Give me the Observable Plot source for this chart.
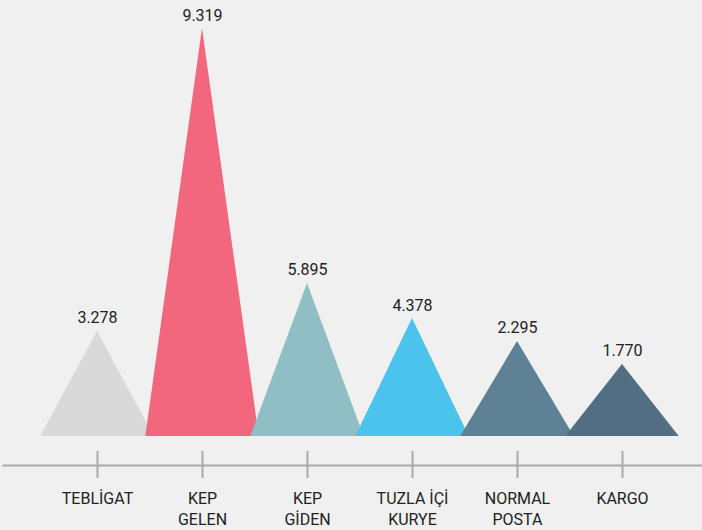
<!DOCTYPE html>
<html>
<head>
<meta charset="utf-8">
<script src="https://cdn.jsdelivr.net/npm/d3@7"></script>
<script src="https://cdn.jsdelivr.net/npm/@observablehq/plot@0.6"></script>
<style>
  html, body { margin: 0; padding: 0; background: #f0f0f0; }
  #chart svg { display: block; }
</style>
</head>
<body>
<div id="chart"></div>
<script>
// Categories (two-line labels)
const categories = ["TEBLİGAT", "KEP\nGELEN", "KEP\nGİDEN", "TUZLA İÇİ\nKURYE", "NORMAL\nPOSTA", "KARGO"];
// Values shown above each triangle
const values = [3278, 9319, 5895, 4378, 2295, 1770];
// Triangle heights as drawn in the picture (in the same units, scaled to the tallest)
const peakHeights = [2400, 9319, 3495, 2695, 2170, 1645];
// Fill colours
const colors = ["#d9d9d9", "#f2667e", "#8fbfc4", "#4bc3ec", "#5f8196", "#516e83"];

const halfWidth = 0.54;
const triangles = categories.flatMap((c, i) => [
  {cat: c, x: i - halfWidth, y: 0},
  {cat: c, x: i, y: peakHeights[i]},
  {cat: c, x: i + halfWidth, y: 0}
]);
const labels = categories.map((c, i) => ({i, cat: c, value: values[i], peak: peakHeights[i]}));

const trFmt = d3.formatLocale({decimal: ",", thousands: ".", grouping: [3], currency: ["₺", ""]}).format(",d");

const chart = Plot.plot({
  width: 702,
  height: 530,
  marginTop: 0,
  marginLeft: 3,
  marginRight: 0,
  marginBottom: 52,
  style: {background: "#f0f0f0", fontFamily: "Roboto, sans-serif"},
  x: {type: "linear", domain: [0, 5], range: [97, 622], axis: null},
  y: {type: "linear", domain: [0, 9319], range: [436, 28], axis: null},
  color: {domain: categories, range: colors},
  marks: [
    Plot.areaY(triangles, {x: "x", y: "y", z: "cat", fill: "cat", curve: "linear"}),
    Plot.text(labels, {x: "i", y: "peak", text: d => trFmt(d.value), lineAnchor: "bottom", dy: -8, fontSize: 16, fill: "#222"}),
    Plot.frame({anchor: "bottom", insetBottom: 13, stroke: "#aaaaaa", strokeWidth: 2}),
    Plot.ruleX(labels, {x: "i", insetTop: 451, stroke: "#aaaaaa", strokeWidth: 2}),
    Plot.text(labels, {x: "i", frameAnchor: "bottom", text: "cat", lineAnchor: "top", dy: 11, fontSize: 16, lineHeight: 1.29, fill: "#222"})
  ]
});
document.getElementById("chart").appendChild(chart);
</script>
</body>
</html>
